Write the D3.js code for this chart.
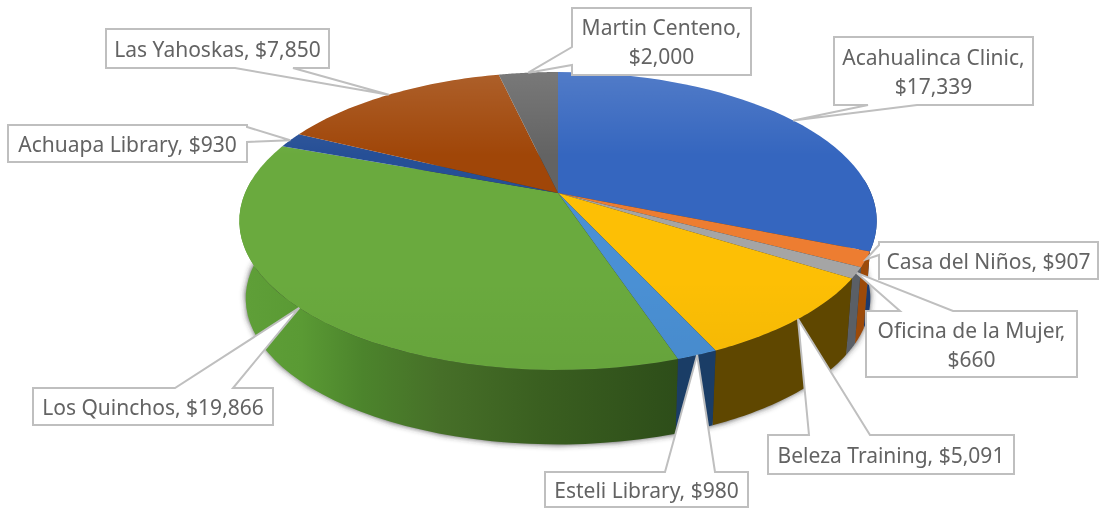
<!DOCTYPE html>
<html>

<head>
	<meta charset="utf-8">
	<title>Project spending pie</title>
	<script src="https://cdn.jsdelivr.net/npm/d3@7/dist/d3.min.js"></script>
	<style>
		html, body { margin: 0; padding: 0; background: #fff; }
		svg { display: block; filter: blur(0.4px); }
		text { font-family: "Noto Sans", sans-serif; font-size: 21px; fill: #636363; }
	</style>
</head>

<body>
	<svg id="chart" width="1099" height="508"></svg>

	<script>
		// data
		const categories = ["Acahualinca Clinic", "Casa del Niños", "Oficina de la Mujer", "Beleza Training", "Esteli Library", "Los Quinchos", "Achuapa Library", "Las Yahoskas", "Martin Centeno"];
		const amounts = [17339, 907, 660, 5091, 980, 19866, 930, 7850, 2000];

		// office palette, top face and side wall
		const topColors = ["#3566bf", "#ed7d31", "#a5a5a5", "#fdbf05", "#4a90d4", "#6aaa3e", "#264f96", "#a04608", "#636363"];
		const wallColors = ["#1c3a6e", "#9c4a09", "#5a5f66", "#5f4700", "#1a3d66", "url(#wallGreen)", "#1c3a6e", "#6a300a", "#444"];

		// callout boxes, same order as categories: box, then the wedge base on one edge
		const boxes = [
			{ x: 834, y: 37, w: 199, h: 68, edge: "bottom", a: 868, b: 917, wrap: true },
			{ x: 879, y: 242, w: 219, h: 37, edge: "left", a: 245, b: 255 },
			{ x: 866, y: 311, w: 211, h: 66, edge: "top", a: 900, b: 953, wrap: true },
			{ x: 768, y: 435, w: 246, h: 39, edge: "top", a: 809, b: 870 },
			{ x: 545, y: 472, w: 203, h: 35, edge: "top", a: 665, b: 715 },
			{ x: 33, y: 388, w: 240, h: 37, edge: "top", a: 175, b: 233 },
			{ x: 8, y: 125, w: 239, h: 37, edge: "right", a: 127, b: 142 },
			{ x: 106, y: 29, w: 223, h: 39, edge: "bottom", a: 235, b: 293 },
			{ x: 572, y: 8, w: 179, h: 67, edge: "left", a: 47, b: 65, wrap: true }
		];

		const svg = d3.select("#chart");
		const money = d3.format(",");

		// perspective pie: p tilts the disc, the lower rim is a slightly smaller copy
		const cx = 558, cy = 193, rx = 313, ry = 143.7, p = 0.188;
		const lower = { dy: 78, f: 0.98 };

		function project(theta, level) {
			const X = Math.sin(theta), Y = -Math.cos(theta);
			const s = 1 / (1 - p * Y);
			const f = level ? lower.f : 1;
			return [cx + rx * X * s * f, cy + (level ? lower.dy : 0) + ry * Y * s * f];
		}

		const arcs = d3.pie().sort(null)(amounts);
		const line = d3.line();
		const steps = (a, b) => d3.range(0, 41).map(i => a + (b - a) * i / 40);

		const defs = svg.append("defs");

		defs.append("filter").attr("id", "soft").attr("x", "-10%").attr("y", "-10%").attr("width", "120%").attr("height", "120%")
			.append("feGaussianBlur").attr("stdDeviation", 3);

		const green = defs.append("linearGradient").attr("id", "wallGreen")
			.attr("gradientUnits", "userSpaceOnUse").attr("x1", 245).attr("x2", 680).attr("y1", 0).attr("y2", 0);
		[["0", "#5f9f38"], ["0.13", "#5a9a34"], ["0.27", "#4c842c"], ["0.45", "#466f28"], ["0.68", "#3a5f20"], ["1", "#2d4d19"]].forEach(d =>
			green.append("stop").attr("offset", d[0]).attr("stop-color", d[1]));

		const sheen = defs.append("linearGradient").attr("id", "sheen")
			.attr("gradientUnits", "userSpaceOnUse").attr("x1", 0).attr("x2", 0).attr("y1", 72).attr("y2", 370);
		[["0", "#fff", 0.14], ["0.28", "#fff", 0], ["0.7", "#000", 0], ["1", "#000", 0.04]].forEach(d =>
			sheen.append("stop").attr("offset", d[0]).attr("stop-color", d[1]).attr("stop-opacity", d[2]));

		const whole = steps(0, 2 * Math.PI);

		// shadow under the wall
		svg.append("path")
			.attr("d", line(whole.map(t => project(t, 1))) + "Z")
			.attr("fill", "#333")
			.attr("filter", "url(#soft)");

		// side walls, front half only
		const lo = Math.PI * 0.47, hi = Math.PI * 1.53;
		svg.append("g")
			.selectAll("path")
			.data(arcs.filter(d => d.endAngle > lo && d.startAngle < hi))
			.join("path")
			.attr("fill", d => wallColors[d.index])
			.attr("d", d => {
				const ts = steps(Math.max(d.startAngle, lo), Math.min(d.endAngle, hi));
				return line(ts.map(t => project(t, 0)).concat(ts.slice().reverse().map(t => project(t, 1)))) + "Z";
			});

		// top face
		svg.append("g")
			.selectAll("path")
			.data(arcs)
			.join("path")
			.attr("fill", d => topColors[d.index])
			.attr("d", d => line([[cx, cy]].concat(steps(d.startAngle, d.endAngle).map(t => project(t, 0)))) + "Z");

		svg.append("path")
			.attr("d", line(whole.map(t => project(t, 0))) + "Z")
			.attr("fill", "url(#sheen)");

		// callouts, wedge tip sits on the rim at the middle of the slice
		function callout(d) {
			const b = boxes[d.index];
			const tip = project((d.startAngle + d.endAngle) / 2, 0);
			const r = b.x + b.w, m = b.y + b.h;
			const corners = {
				top: [[b.x, b.y], [b.a, b.y], tip, [b.b, b.y], [r, b.y], [r, m], [b.x, m]],
				bottom: [[b.x, b.y], [r, b.y], [r, m], [b.b, m], tip, [b.a, m], [b.x, m]],
				left: [[b.x, b.y], [r, b.y], [r, m], [b.x, m], [b.x, b.b], tip, [b.x, b.a]],
				right: [[b.x, b.y], [r, b.y], [r, b.a], tip, [r, b.b], [r, m], [b.x, m]]
			};
			return line(corners[b.edge]) + "Z";
		}

		const labels = svg.append("g")
			.selectAll("g")
			.data(arcs)
			.join("g");

		labels.append("path")
			.attr("d", callout)
			.attr("fill", "#fff")
			.attr("stroke", "#bfbfbf")
			.attr("stroke-width", 2);

		labels.append("text")
			.attr("text-anchor", "middle")
			.each(function (d) {
				const b = boxes[d.index];
				const name = categories[d.index] + ",", val = "$" + money(amounts[d.index]);
				const rows = b.wrap ? [name, val] : [name + " " + val];
				const mid = b.y + b.h / 2;
				d3.select(this).selectAll("tspan")
					.data(rows)
					.join("tspan")
					.attr("x", b.x + b.w / 2)
					.attr("y", (r, i) => mid + 8 + (i - (rows.length - 1) / 2) * 29)
					.text(r => r);
			});
	</script>
</body>

</html>
